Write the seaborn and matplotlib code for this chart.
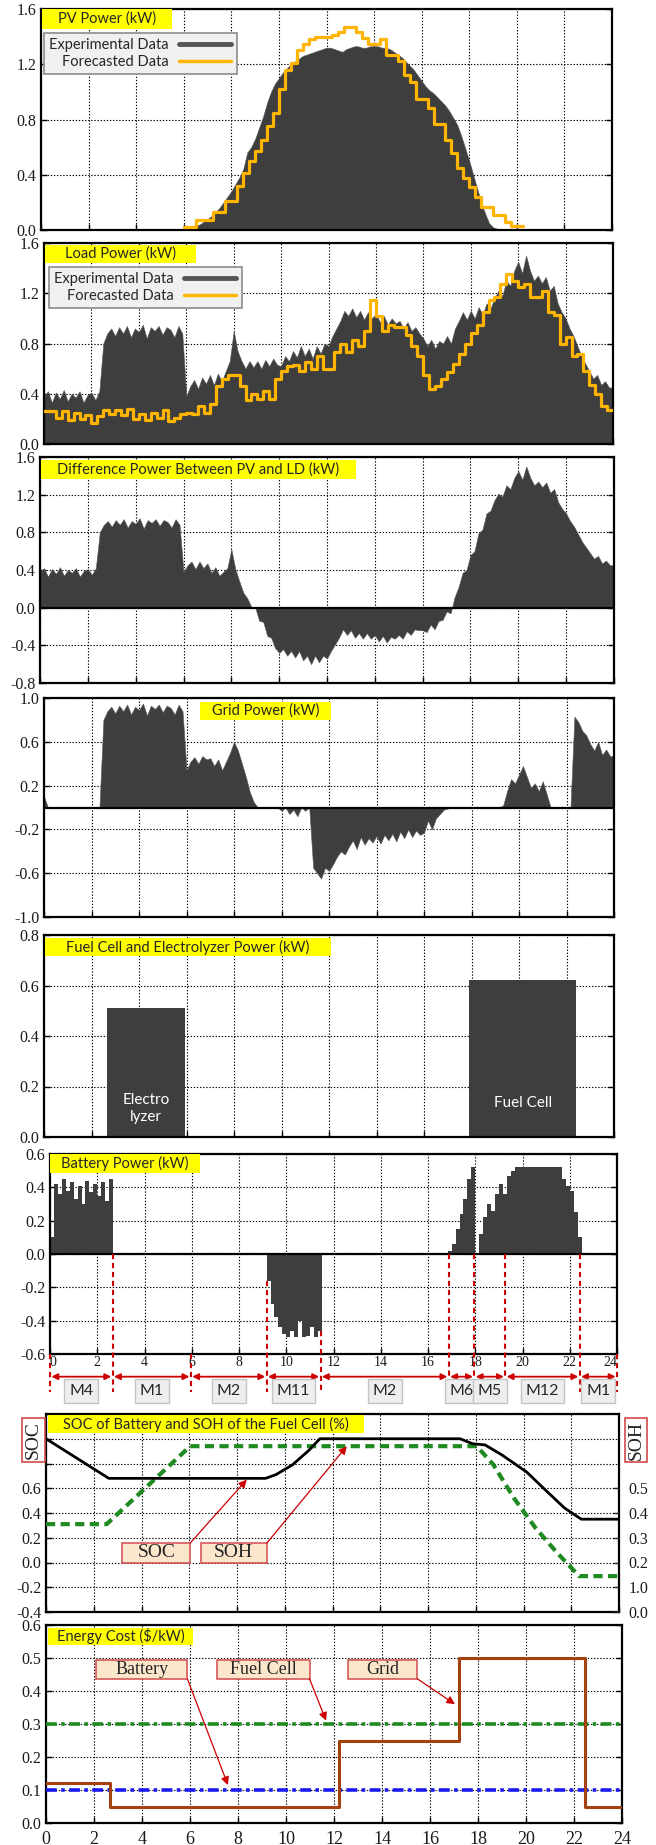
import numpy as np
import matplotlib
matplotlib.use("Agg")
import matplotlib.pyplot as plt
import seaborn as sns
from matplotlib.patches import Rectangle
from matplotlib.lines import Line2D

# ---------------------------------------------------------------------------
# Measured power over one day, 10-minute samples (0 h ... 24 h, 145 samples)
# ---------------------------------------------------------------------------
hours = np.arange(145) / 6.0

load_kw = [
    0.38, 0.42, 0.33, 0.41, 0.36, 0.43,
    0.34, 0.40, 0.37, 0.42, 0.33, 0.39,
    0.41, 0.35, 0.42, 0.80, 0.88, 0.92,
    0.86, 0.93, 0.88, 0.94, 0.85, 0.92,
    0.89, 0.95, 0.84, 0.93, 0.90, 0.94,
    0.87, 0.93, 0.91, 0.85, 0.94, 0.88,
    0.38, 0.46, 0.51, 0.44, 0.53, 0.48,
    0.55, 0.47, 0.56, 0.50, 0.58, 0.66,
    0.90, 0.74, 0.66, 0.60, 0.66, 0.61,
    0.66, 0.60, 0.67, 0.62, 0.68, 0.63,
    0.62, 0.70, 0.66, 0.74, 0.69, 0.78,
    0.70, 0.76, 0.68, 0.78, 0.72, 0.80,
    0.78, 0.86, 0.92, 0.98, 1.06, 1.02,
    1.08, 1.01, 1.06, 0.99, 1.05, 1.00,
    1.04, 0.97, 1.02, 0.95, 1.00, 0.96,
    0.98, 0.92, 0.97, 0.90, 0.93, 0.88,
    0.84, 0.78, 0.83, 0.76, 0.82, 0.80,
    0.86, 0.80, 0.92, 0.98, 1.05, 0.99,
    1.06, 1.00, 1.09, 1.03, 1.12, 1.08,
    1.16, 1.22, 1.18, 1.30, 1.26, 1.38,
    1.45, 1.36, 1.50, 1.38, 1.30, 1.34,
    1.28, 1.33, 1.22, 1.26, 1.12, 1.05,
    1.00, 0.92, 0.86, 0.78, 0.70, 0.64,
    0.58, 0.52, 0.55, 0.47, 0.50, 0.45,
    0.45,
]

pv_kw = [
    0.00, 0.00, 0.00, 0.00, 0.00, 0.00,
    0.00, 0.00, 0.00, 0.00, 0.00, 0.00,
    0.00, 0.00, 0.00, 0.00, 0.00, 0.00,
    0.00, 0.00, 0.00, 0.00, 0.00, 0.00,
    0.00, 0.00, 0.00, 0.00, 0.00, 0.00,
    0.00, 0.00, 0.00, 0.00, 0.00, 0.00,
    0.00, 0.01, 0.02, 0.03, 0.04, 0.06,
    0.08, 0.10, 0.13, 0.16, 0.20, 0.24,
    0.28, 0.33, 0.38, 0.44, 0.56, 0.60,
    0.66, 0.74, 0.82, 0.92, 1.00, 1.06,
    1.10, 1.14, 1.17, 1.20, 1.22, 1.24,
    1.26, 1.27, 1.28, 1.29, 1.30, 1.31,
    1.32, 1.32, 1.31, 1.30, 1.29, 1.31,
    1.32, 1.33, 1.33, 1.32, 1.32, 1.33,
    1.33, 1.33, 1.32, 1.32, 1.31, 1.29,
    1.27, 1.25, 1.22, 1.19, 1.16, 1.12,
    1.08, 1.04, 1.01, 0.99, 0.96, 0.93,
    0.90, 0.86, 0.81, 0.76, 0.68, 0.59,
    0.50, 0.40, 0.30, 0.20, 0.12, 0.05,
    0.02, 0.01, 0.00, 0.00, 0.00, 0.00,
    0.00, 0.00, 0.00, 0.00, 0.00, 0.00,
    0.00, 0.00, 0.00, 0.00, 0.00, 0.00,
    0.00, 0.00, 0.00, 0.00, 0.00, 0.00,
    0.00, 0.00, 0.00, 0.00, 0.00, 0.00,
    0.00,
]

grid_kw = [
    0.10, 0.00, 0.00, 0.00, 0.00, 0.00,
    0.00, 0.00, 0.00, 0.00, 0.00, 0.00,
    0.00, 0.00, 0.00, 0.80, 0.88, 0.92,
    0.86, 0.93, 0.88, 0.94, 0.85, 0.92,
    0.89, 0.95, 0.84, 0.93, 0.90, 0.94,
    0.87, 0.93, 0.91, 0.85, 0.94, 0.88,
    0.34, 0.42, 0.46, 0.40, 0.47, 0.44,
    0.45, 0.38, 0.44, 0.34, 0.42, 0.50,
    0.60, 0.52, 0.40, 0.28, 0.14, 0.05,
    0.00, 0.00, 0.00, 0.00, 0.00, 0.00,
    -0.03, 0.00, -0.06, -0.02, -0.08, 0.00,
    -0.03, 0.00, -0.55, -0.60, -0.65, -0.55,
    -0.58, -0.52, -0.45, -0.40, -0.43, -0.36,
    -0.30, -0.38, -0.27, -0.34, -0.28, -0.32,
    -0.26, -0.33, -0.25, -0.30, -0.24, -0.31,
    -0.22, -0.28, -0.20, -0.27, -0.21, -0.25,
    -0.23, -0.12, -0.20, -0.10, -0.06, -0.02,
    -0.01, 0.00, 0.00, 0.00, 0.00, 0.00,
    0.00, 0.00, 0.00, 0.00, 0.00, 0.00,
    0.00, 0.00, 0.02, 0.15, 0.26, 0.22,
    0.30, 0.38, 0.28, 0.18, 0.22, 0.15,
    0.24, 0.12, 0.00, 0.00, 0.00, 0.00,
    0.00, 0.00, 0.83, 0.78, 0.70, 0.66,
    0.58, 0.52, 0.60, 0.48, 0.53, 0.47,
    0.47,
]

battery_kw = [
    0.10, 0.42, 0.36, 0.45, 0.38, 0.43,
    0.33, 0.41, 0.30, 0.44, 0.37, 0.42,
    0.35, 0.43, 0.32, 0.45, 0.00, 0.00,
    0.00, 0.00, 0.00, 0.00, 0.00, 0.00,
    0.00, 0.00, 0.00, 0.00, 0.00, 0.00,
    0.00, 0.00, 0.00, 0.00, 0.00, 0.00,
    0.00, 0.00, 0.00, 0.00, 0.00, 0.00,
    0.00, 0.00, 0.00, 0.00, 0.00, 0.00,
    0.00, 0.00, 0.00, 0.00, 0.00, 0.00,
    0.00, -0.16, -0.30, -0.38, -0.44, -0.48,
    -0.50, -0.46, -0.50, -0.40, -0.50, -0.49,
    -0.44, -0.50, -0.46, 0.00, 0.00, 0.00,
    0.00, 0.00, 0.00, 0.00, 0.00, 0.00,
    0.00, 0.00, 0.00, 0.00, 0.00, 0.00,
    0.00, 0.00, 0.00, 0.00, 0.00, 0.00,
    0.00, 0.00, 0.00, 0.00, 0.00, 0.00,
    0.00, 0.00, 0.00, 0.00, 0.00, 0.02,
    0.06, 0.15, 0.24, 0.33, 0.45, 0.52,
    0.00, 0.12, 0.22, 0.30, 0.26, 0.36,
    0.42, 0.36, 0.47, 0.50, 0.52, 0.52,
    0.52, 0.52, 0.52, 0.52, 0.52, 0.52,
    0.52, 0.52, 0.52, 0.52, 0.45, 0.41,
    0.38, 0.25, 0.10, 0.00, 0.00, 0.00,
    0.00, 0.00, 0.00, 0.00, 0.00, 0.00,
    0.00,
]

# Quarter-hour forecasts
load_fc_hours = np.arange(97) / 4.0
load_fc_kw = [
    0.26, 0.26, 0.21, 0.26,
    0.19, 0.25, 0.20, 0.23,
    0.17, 0.22, 0.27, 0.24,
    0.27, 0.23, 0.28, 0.20,
    0.24, 0.19, 0.25, 0.21,
    0.27, 0.18, 0.21, 0.24,
    0.25, 0.24, 0.30, 0.25,
    0.32, 0.46, 0.52, 0.55,
    0.55, 0.46, 0.35, 0.40,
    0.36, 0.42, 0.36, 0.52,
    0.58, 0.62, 0.63, 0.58,
    0.65, 0.60, 0.70, 0.60,
    0.60, 0.73, 0.80, 0.73,
    0.83, 0.78, 0.90, 1.15,
    1.02, 0.90, 0.95, 0.93,
    0.93, 0.87, 0.78, 0.70,
    0.55, 0.44, 0.46, 0.52,
    0.57, 0.64, 0.72, 0.80,
    0.88, 0.95, 1.05, 1.15,
    1.17, 1.27, 1.35, 1.30,
    1.25, 1.27, 1.17, 1.17,
    1.22, 1.05, 1.03, 0.80,
    0.85, 0.70, 0.72, 0.58,
    0.47, 0.40, 0.30, 0.27,
    0.27,
]

pv_fc_hours = 6.0 + np.arange(58) / 4.0
pv_fc_kw = [
    0.02, 0.02, 0.07, 0.07, 0.07, 0.13, 0.13, 0.21, 0.21, 0.32,
    0.41, 0.50, 0.57, 0.65, 0.75, 0.85, 1.02, 1.16, 1.21, 1.30,
    1.35, 1.38, 1.40, 1.40, 1.40, 1.41, 1.43, 1.47, 1.47, 1.43,
    1.39, 1.35, 1.35, 1.38, 1.27, 1.27, 1.22, 1.12, 1.07, 0.95,
    0.95, 0.88, 0.77, 0.77, 0.65, 0.56, 0.45, 0.38, 0.31, 0.24,
    0.17, 0.17, 0.11, 0.11, 0.06, 0.03, 0.03, 0.03,
]

# Electrolyzer / fuel cell operating windows
unit_names = ["Electro\nlyzer", "Fuel Cell"]
unit_start = [2.65, 17.90]
unit_end = [5.93, 22.42]
unit_kw = [0.51, 0.62]

# Energy-management operating modes
mode_names = ["M4", "M1", "M2", "M11", "M2", "M6", "M5", "M12", "M1"]
mode_bounds = [0.0, 2.65, 5.96, 9.17, 11.45, 16.88, 17.96, 19.27, 22.42, 24.0]

# Battery state of charge and fuel-cell state of health
soc_hours = [0, 2.63, 9.2, 9.63, 10.33, 11.03, 11.47, 17.34, 17.86, 18.39,
             19.09, 20.14, 20.84, 21.72, 22.42, 24]
soc_values = [1.00, 0.68, 0.68, 0.71, 0.79, 0.91, 1.00, 1.00, 0.96, 0.95,
              0.87, 0.73, 0.60, 0.44, 0.35, 0.35]
soh_hours = [0, 2.54, 6.04, 18.04, 18.74, 19.6, 20.5, 21.4, 22.33, 24]
soh_values = [0.31, 0.31, 0.94, 0.94, 0.79, 0.52, 0.28, 0.08, -0.11, -0.11]
soc_ticks = [-0.4, -0.2, 0.0, 0.2, 0.4, 0.6, 0.8, 1.0, 1.2]
soc_tick_labels = ["-0.4", "-0.2", "0.0", "0.2", "0.4", "0.6", "", "", ""]
soh_tick_labels = ["0.0", "1.0", "0.2", "0.3", "0.4", "0.5"]

# Energy cost
cost_hours = [0, 2.65, 12.2, 17.2, 22.45, 24]
grid_cost = [0.12, 0.05, 0.25, 0.50, 0.05, 0.05]
flat_hours = [0, 24]
battery_cost = [0.10, 0.10]
fuel_cell_cost = [0.30, 0.30]

diff_kw = np.asarray(load_kw) - np.asarray(pv_kw)

# ---------------------------------------------------------------------------
# Styling
# ---------------------------------------------------------------------------
DARK = "#3e3e3e"
ORANGE = "#FFB400"
YELLOW = "#FFFF00"
RED = "#CC0000"
BOX_EDGE = "#D24B4B"
BOX_FACE = "#FCE6CC"
GREEN = "#1F8A1F"
BLUE = "#1A1AF0"
BROWN = "#A3420E"
SERIF = ["Liberation Serif", "DejaVu Serif"]
SANS = ["Lato", "DejaVu Sans"]

sns.set_theme(style="white")
plt.rcParams["font.family"] = SERIF
plt.rcParams["axes.unicode_minus"] = False

W, H, DPI = 656, 1845, 100
fig = plt.figure(figsize=(W / DPI, H / DPI), dpi=DPI)
fig.patch.set_facecolor("white")


def axes_px(left, top, right, bottom):
    return fig.add_axes([left / W, 1 - bottom / H, (right - left) / W, (bottom - top) / H])


def style(ax, ylim, yticks, ylabels):
    ax.set_xlim(0, 24)
    ax.set_ylim(*ylim)
    ax.set_xticks(np.arange(0, 25, 2))
    ax.set_yticks(yticks)
    ax.set_yticklabels(ylabels)
    ax.set_xlabel("")
    ax.set_ylabel("")
    ax.grid(True, color="black", linestyle=(0, (1.2, 1.6)), linewidth=0.8)
    ax.set_axisbelow(True)
    for s in ax.spines.values():
        s.set_visible(True)
        s.set_linewidth(1.6)
        s.set_color("black")
    ax.tick_params(axis="both", direction="in", length=4, width=1, colors="black",
                   labelsize=11.5, left=True, right=True, bottom=True, top=False,
                   labelbottom=False, labelcolor="#1a1a1a")


def title_box(x0, y0, x1, y1, text, size=10.5):
    fig.add_artist(Rectangle((x0 / W, 1 - y1 / H), (x1 - x0) / W, (y1 - y0) / H,
                             transform=fig.transFigure, facecolor=YELLOW,
                             edgecolor="none", zorder=20))
    fig.text((x0 + x1) / 2 / W, 1 - (y0 + y1) / 2 / H, text, ha="center", va="center",
             family=SANS, fontsize=size, zorder=21)


def data_legend(ax, x0, y0):
    handles = [Line2D([], [], color="#555555", linewidth=3.5),
               Line2D([], [], color=ORANGE, linewidth=2.5)]
    leg = ax.legend(handles, ["Experimental Data", "Forecasted Data"], loc="upper left",
                    bbox_to_anchor=(x0 / W, 1 - y0 / H), bbox_transform=fig.transFigure,
                    markerfirst=False, frameon=True, fancybox=False, framealpha=1,
                    edgecolor="#8c8c8c", facecolor="#f0f0f0", borderaxespad=0,
                    prop={"family": SANS, "size": 10.5}, handlelength=3.6,
                    handletextpad=0.7, borderpad=0.35, labelspacing=0.2)
    leg.get_frame().set_linewidth(1.2)
    leg.set_zorder(15)


def callout(ax, x0, x1, y0, y1, text, start, target, size):
    ax.add_patch(Rectangle((x0, y0), x1 - x0, y1 - y0, facecolor=BOX_FACE,
                           edgecolor=BOX_EDGE, linewidth=1.1, zorder=6, clip_on=False))
    ax.text((x0 + x1) / 2, (y0 + y1) / 2, text, ha="center", va="center",
            fontsize=size, family=SERIF, zorder=7)
    ax.annotate("", xy=target, xytext=start, zorder=8, annotation_clip=False,
                arrowprops=dict(arrowstyle="-|>", color=RED, lw=0.9,
                                mutation_scale=12, shrinkA=0, shrinkB=0))


def measured(ax, values):
    ax.fill_between(hours, 0, values, color=DARK, linewidth=0.4, edgecolor="#5a5a5a", zorder=2)


# --- PV power --------------------------------------------------------------
ax1 = axes_px(41, 9, 612, 230)
measured(ax1, pv_kw)
sns.lineplot(x=pv_fc_hours, y=pv_fc_kw, ax=ax1, color=ORANGE, linewidth=2.3,
             drawstyle="steps-post", estimator=None, sort=False, zorder=3)
style(ax1, (0, 1.6), [0.0, 0.4, 0.8, 1.2, 1.6], ["0.0", "0.4", "0.8", "1.2", "1.6"])
data_legend(ax1, 44, 33)
title_box(42, 9, 172, 29, "PV Power (kW)")

# --- Load power ------------------------------------------------------------
ax2 = axes_px(44, 243, 613, 444)
measured(ax2, load_kw)
sns.lineplot(x=load_fc_hours, y=load_fc_kw, ax=ax2, color=ORANGE, linewidth=2.3,
             drawstyle="steps-post", estimator=None, sort=False, zorder=3)
style(ax2, (0, 1.6), [0.0, 0.4, 0.8, 1.2, 1.6], ["0.0", "0.4", "0.8", "1.2", "1.6"])
data_legend(ax2, 49, 267)
title_box(45, 245, 196, 263, "Load Power (kW)")

# --- Difference between load and PV ---------------------------------------
ax3 = axes_px(40, 457, 614, 683)
measured(ax3, diff_kw)
ax3.axhline(0, color="black", linewidth=1.6, zorder=3)
style(ax3, (-0.8, 1.6), [-0.8, -0.4, 0.0, 0.4, 0.8, 1.2, 1.6],
      ["-0.8", "-0.4", "0.0", "0.4", "0.8", "1.2", "1.6"])
title_box(41, 460, 356, 479, "Difference Power Between PV and LD (kW)")

# --- Grid power ------------------------------------------------------------
ax4 = axes_px(44, 698, 614, 917)
measured(ax4, grid_kw)
ax4.axhline(0, color="black", linewidth=1.6, zorder=3)
style(ax4, (-1.0, 1.0), [-1.0, -0.6, -0.2, 0.2, 0.6, 1.0],
      ["-1.0", "-0.6", "-0.2", "0.2", "0.6", "1.0"])
title_box(200, 702, 331, 720, "Grid Power (kW)")

# --- Fuel cell and electrolyzer -------------------------------------------
ax5 = axes_px(44, 935, 614, 1137)
ax5.bar(unit_start, unit_kw, width=np.subtract(unit_end, unit_start), align="edge",
        color=DARK, linewidth=0, zorder=2)
for name, a, b, lvl in zip(unit_names, unit_start, unit_end, unit_kw):
    ax5.text((a + b) / 2, 0.22 * lvl, name, ha="center", va="center", color="white",
             family=SANS, fontsize=11, linespacing=1.3, zorder=4)
style(ax5, (0, 0.8), [0.0, 0.2, 0.4, 0.6, 0.8], ["0.0", "0.2", "0.4", "0.6", "0.8"])
title_box(45, 938, 331, 956, "Fuel Cell and Electrolyzer Power (kW)")

# --- Battery power with operating modes -----------------------------------
ax6 = axes_px(50, 1154, 617, 1354)
ax6.fill_between(hours, 0, battery_kw, step="post", color=DARK, linewidth=0, zorder=2)
ax6.axhline(0, color="black", linewidth=1.6, zorder=3)

y_arrow, y_label, y_line_end = -0.736, -0.822, -0.83
for b in mode_bounds:
    i = int(b * 6)
    quiet = (b in (0.0, 24.0)) or (battery_kw[max(i - 1, 0)] == 0 and battery_kw[min(i + 1, 144)] == 0)
    y_top = -0.6 if quiet else min(0.0, battery_kw[i])
    ax6.plot([b, b], [y_top, y_line_end], color=RED, linewidth=1.5,
             linestyle=(0, (2.5, 1.8)), clip_on=False, zorder=5)
for name, a, b in zip(mode_names, mode_bounds[:-1], mode_bounds[1:]):
    ax6.annotate("", xy=(b, y_arrow), xytext=(a, y_arrow), annotation_clip=False,
                 arrowprops=dict(arrowstyle="<|-|>", color=RED, lw=1.3,
                                 mutation_scale=9, shrinkA=1, shrinkB=1))
    ax6.text((a + b) / 2, y_label, name, ha="center", va="center", family=SANS,
             fontsize=11.5, clip_on=False, zorder=6,
             bbox=dict(boxstyle="square,pad=0.3", facecolor="#eeeeee",
                       edgecolor="#c4c4c4", linewidth=1))
style(ax6, (-0.6, 0.6), [-0.6, -0.4, -0.2, 0.0, 0.2, 0.4, 0.6],
      ["-0.6", "-0.4", "-0.2", "0.0", "0.2", "0.4", "0.6"])
ax6.tick_params(axis="x", labelbottom=True, labelsize=10, pad=1.5)
xl = ax6.get_xticklabels()
xl[0].set_ha("left")
xl[-1].set_ha("right")
title_box(50, 1154, 200, 1173, "Battery Power (kW)")

# --- SOC / SOH -------------------------------------------------------------
ax7 = axes_px(46, 1414, 619, 1612)
sns.lineplot(x=soc_hours, y=soc_values, ax=ax7, color="black", linewidth=2.0,
             estimator=None, sort=False, zorder=4)
sns.lineplot(x=soh_hours, y=soh_values, ax=ax7, color=GREEN, linewidth=3.0,
             linestyle=(0, (2.2, 1.3)), estimator=None, sort=False, zorder=3)
callout(ax7, 3.2, 6.04, 0.0, 0.157, "SOC", (6.04, 0.157), (8.41, 0.67), 14)
callout(ax7, 6.48, 9.25, 0.0, 0.157, "SOH", (9.25, 0.157), (12.6, 0.94), 14)
style(ax7, (-0.4, 1.2), soc_ticks, soc_tick_labels)
ax7r = ax7.twinx()
ax7r.set_ylim(-0.4, 1.2)
ax7r.set_yticks(soc_ticks[:6])
ax7r.set_yticklabels(soh_tick_labels)
ax7r.grid(False)
for s in ax7r.spines.values():
    s.set_visible(False)
ax7r.tick_params(axis="y", direction="in", length=4, width=1, labelsize=11.5, pad=7,
                 labelcolor="#1a1a1a")
fig.text(33.5 / W, 1 - 1440 / H, "SOC", rotation=90, ha="center", va="center",
         fontsize=14, family=SERIF,
         bbox=dict(boxstyle="square,pad=0.15", facecolor="white", edgecolor=BOX_EDGE, linewidth=1.2))
fig.text(636 / W, 1 - 1440 / H, "SOH", rotation=90, ha="center", va="center",
         fontsize=14, family=SERIF,
         bbox=dict(boxstyle="square,pad=0.15", facecolor="white", edgecolor=BOX_EDGE, linewidth=1.2))
title_box(48, 1415, 364, 1433, "SOC of Battery and SOH of the Fuel Cell (%)")

# --- Energy cost -----------------------------------------------------------
ax8 = axes_px(46, 1625, 622, 1823)
sns.lineplot(x=flat_hours, y=fuel_cell_cost, ax=ax8, color=GREEN, linewidth=2.6,
             linestyle=(0, (3, 1.2, 1, 1.2)), estimator=None, sort=False, zorder=3)
sns.lineplot(x=flat_hours, y=battery_cost, ax=ax8, color=BLUE, linewidth=2.6,
             linestyle=(0, (3, 1.2, 1, 1.2)), estimator=None, sort=False, zorder=3)
sns.lineplot(x=cost_hours, y=grid_cost, ax=ax8, color=BROWN, linewidth=2.2,
             drawstyle="steps-post", estimator=None, sort=False, zorder=4)
callout(ax8, 2.09, 5.89, 0.437, 0.495, "Battery", (5.89, 0.437), (7.58, 0.115), 13)
callout(ax8, 7.14, 10.98, 0.437, 0.495, "Fuel Cell", (10.98, 0.437), (11.67, 0.31), 13)
callout(ax8, 12.6, 15.47, 0.437, 0.495, "Grid", (15.47, 0.437), (17.04, 0.36), 13)
style(ax8, (0, 0.6), [0.0, 0.1, 0.2, 0.3, 0.4, 0.5, 0.6],
      ["0.0", "0.1", "0.2", "0.3", "0.4", "0.5", "0.6"])
ax8.tick_params(axis="x", labelbottom=True, labelsize=13, pad=6)
title_box(48, 1628, 193, 1645, "Energy Cost (\\$/kW)")

fig.savefig("out.png", dpi=DPI, facecolor="white")
